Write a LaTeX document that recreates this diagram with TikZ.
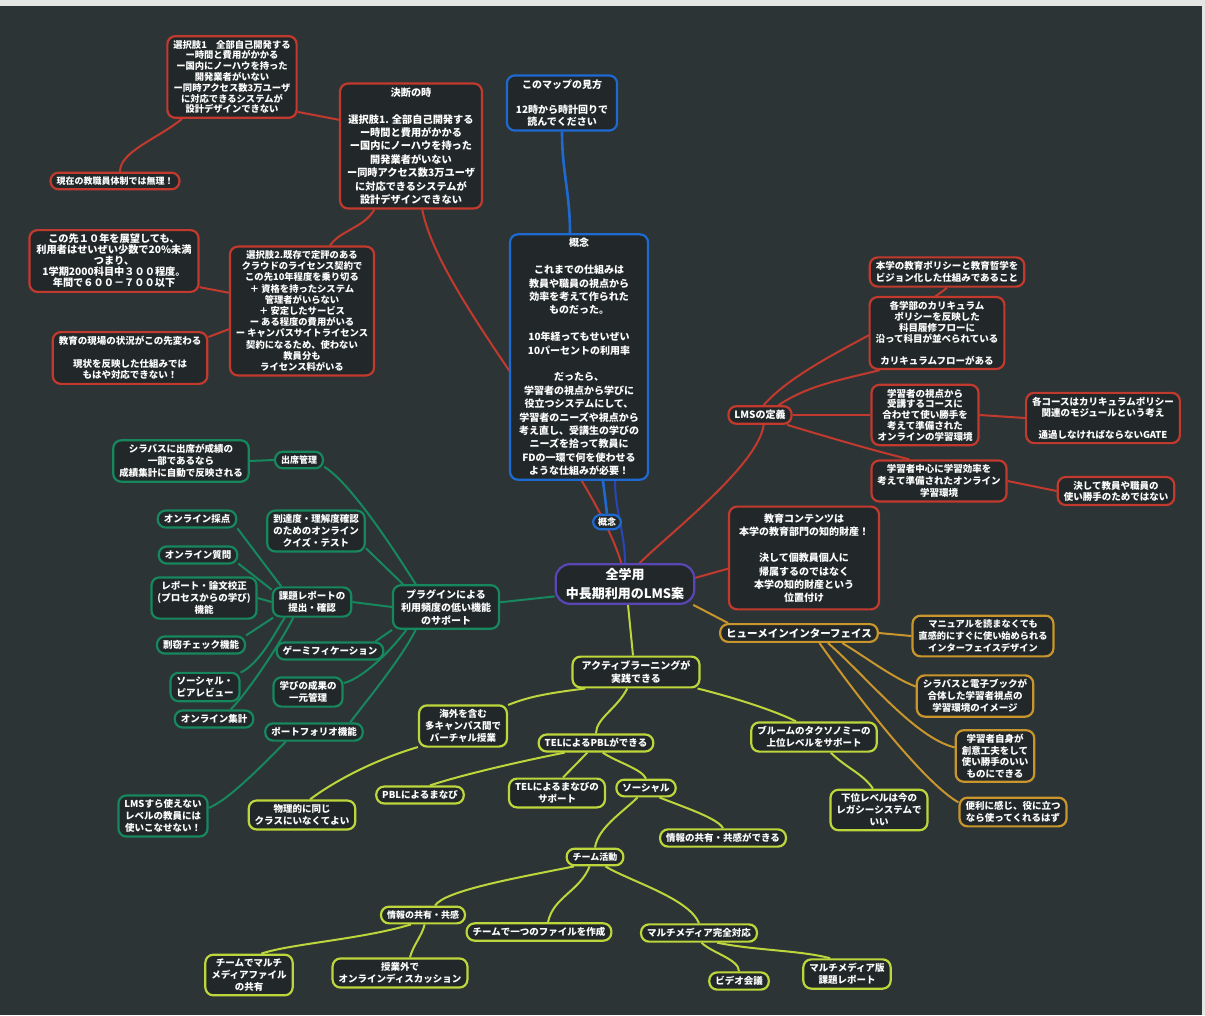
\documentclass[tikz,border=0pt]{standalone}
\usepackage{fontspec}
\newfontfamily\jp{Noto Sans CJK JP}
\newcommand\setfs[2]{\fontsize{#1}{#2}\selectfont}
\definecolor{bgc}{HTML}{2D3436}
\definecolor{nfill}{HTML}{222829}
\definecolor{mred}{HTML}{C23A2E}
\definecolor{mblue}{HTML}{1F6AD0}
\definecolor{mbluedark}{HTML}{2846B8}
\definecolor{mgreen}{HTML}{17885E}
\definecolor{mlime}{HTML}{BCD63C}
\definecolor{mgold}{HTML}{C8962C}
\definecolor{mpurple}{HTML}{5A46B4}
\definecolor{edgepaper}{HTML}{E4E6E4}
\pgfdeclarelayer{bg}
\pgfdeclarelayer{links}
\pgfsetlayers{bg,links,main}
\tikzset{
  mmbox/.style={rounded corners=8pt, draw, line width=2.2pt, fill=nfill, text=white,
    align=center, inner xsep=6pt, inner ysep=4pt, font=\jp\bfseries\setfs{9.5}{12}},
  rbox/.style={mmbox, draw=mred},
  bbox/.style={mmbox, draw=mblue},
  gbox/.style={mmbox, draw=mgreen},
  lbox/.style={mmbox, draw=mlime},
  obox/.style={mmbox, draw=mgold},
  rootbox/.style={mmbox, draw=mpurple, rounded corners=14pt, inner xsep=10pt, inner ysep=4pt, font=\jp\bfseries\setfs{13}{19}},
  rlink/.style={draw=mred, line width=2pt},
  blink/.style={draw=mblue, line width=2.6pt},
  bdlink/.style={draw=mbluedark, line width=2pt},
  glink/.style={draw=mgreen, line width=2pt},
  llink/.style={draw=mlime, line width=2pt},
  olink/.style={draw=mgold, line width=2pt},
}
\begin{document}
\begin{tikzpicture}[x=1pt,y=-1pt]
\useasboundingbox (0,0) rectangle (1205,1015);
\begin{pgfonlayer}{bg}
  \fill[bgc] (0,0) rectangle (1205,1015);
  \fill[edgepaper] (0,0) rectangle (1205,6);
  \fill[edgepaper] (1202,0) rectangle (1205,1015);
\end{pgfonlayer}

% ---------- root ----------
\node[rootbox] (root) at (625,584) {全学用\\中長期利用のLMS案};

% ---------- red branch: decision ----------
\node[rbox, font=\jp\bfseries\setfs{9.3}{10.8}] (sel1) at (232,77) {選択肢1　全部自己開発する\\ー時間と費用がかかる\\ー国内にノーハウを持った\\開発業者がいない\\ー同時アクセス数3万ユーザ\\に対応できるシステムが\\設計デザインできない};
\node[rbox, font=\jp\bfseries\setfs{9}{11}] (cur) at (115,181) {現在の教職員体制では無理！};
\node[rbox, font=\jp\bfseries\setfs{10.2}{13.4}, inner xsep=7pt] (decide) at (411,146) {決断の時\\[13.4pt]選択肢1. 全部自己開発する\\ー時間と費用がかかる\\ー国内にノーハウを持った\\開発業者がいない\\ー同時アクセス数3万ユーザ\\に対応できるシステムが\\設計デザインできない};
\node[rbox, font=\jp\bfseries\setfs{9.3}{11.2}] (sel2) at (302,311) {選択肢2.既存で定評のある\\クラウドのライセンス契約で\\この先10年程度を乗り切る\\＋ 資格を持ったシステム\\管理者がいらない\\＋ 安定したサービス\\ー ある程度の費用がいる\\ー キャンパスサイトライセンス\\契約になるため、使わない\\教員分も\\ライセンス料がいる};
\node[rbox, font=\jp\bfseries\setfs{10.2}{11}, inner xsep=7pt] (ten) at (114,261) {この先１０年を展望しても、\\利用者はせいぜい少数で20\%未満\\つまり、\\1学期2000科目中３００程度。\\年間で６００－７００以下};
\node[rbox, font=\jp\bfseries\setfs{9.5}{11.5}] (edu) at (130,358) {教育の現場の状況がこの先変わる\\[11.5pt]現状を反映した仕組みでは\\もはや対応できない！};

% ---------- red branch: LMS definition ----------
\node[rbox, font=\jp\bfseries\setfs{10}{12}] (lms) at (760,415) {LMSの定義};
\node[rbox] (p1) at (947,272) {本学の教育ポリシーと教育哲学を\\ビジョン化した仕組みであること};
\node[rbox, font=\jp\bfseries\setfs{9.5}{11}] (p2) at (937,333) {各学部のカリキュラム\\ポリシーを反映した\\科目履修フローに\\沿って科目が並べられている\\[11pt]カリキュラムフローがある};
\node[rbox, font=\jp\bfseries\setfs{9.5}{10.8}] (p3) at (925,415) {学習者の視点から\\受講するコースに\\合わせて使い勝手を\\考えて準備された\\オンラインの学習環境};
\node[rbox, font=\jp\bfseries\setfs{9.5}{11}] (p3a) at (1103,418) {各コースはカリキュラムポリシー\\関連のモジュールという考え\\[11pt]通過しなければならないGATE};
\node[rbox] (p4) at (939,481) {学習者中心に学習効率を\\考えて準備されたオンライン\\学習環境};
\node[rbox, font=\jp\bfseries\setfs{9.5}{11}] (p4a) at (1116,491) {決して教員や職員の\\使い勝手のためではない};
\node[rbox, font=\jp\bfseries\setfs{10}{13.2}, inner ysep=7pt, inner xsep=10pt] (content) at (804,558) {教育コンテンツは\\本学の教育部門の知的財産！\\[13.2pt]決して個教員個人に\\帰属するのではなく\\本学の知的財産という\\位置付け};

% ---------- blue branch ----------
\node[bbox, font=\jp\bfseries\setfs{10}{12.5}, inner xsep=9pt] (howto) at (562,103) {このマップの見方\\[12.5pt]12時から時計回りで\\読んでください};
\node[bbox, font=\jp\bfseries\setfs{10}{13.4}, inner xsep=9pt] (concept) at (579,357) {概念\\[13.4pt]これまでの仕組みは\\教員や職員の視点から\\効率を考えて作られた\\ものだった。\\[13.4pt]10年経ってもせいぜい\\10パーセントの利用率\\[13.4pt]だったら、\\学習者の視点から学びに\\役立つシステムにして、\\学習者のニーズや視点から\\考え直し、受講生の学びの\\ニーズを拾って教員に\\FDの一環で何を使わせる\\ような仕組みが必要！};
\node[bbox, font=\jp\bfseries\setfs{9}{11}, inner xsep=5pt, inner ysep=3pt] (tag) at (607,522) {概念};

% ---------- gold branch ----------
\node[obox, font=\jp\bfseries\setfs{10.5}{12}] (hum) at (799,633) {ヒューメインインターフェイス};
\node[obox, font=\jp\bfseries\setfs{9.2}{12}] (o1) at (983,636) {マニュアルを読まなくても\\直感的にすぐに使い始められる\\インターフェイスデザイン};
\node[obox] (o2) at (975,696) {シラバスと電子ブックが\\合体した学習者視点の\\学習環境のイメージ};
\node[obox, font=\jp\bfseries\setfs{9.5}{11.5}] (o3) at (995,756) {学習者自身が\\創意工夫をして\\使い勝手のいい\\ものにできる};
\node[obox, font=\jp\bfseries\setfs{9.5}{11.5}] (o4) at (1013,812) {便利に感じ、役に立つ\\なら使ってくれるはず};

% ---------- green branch ----------
\node[gbox, font=\jp\bfseries\setfs{10}{13}, inner xsep=8pt] (plug) at (446,607) {プラグインによる\\利用頻度の低い機能\\のサポート};
\node[gbox, font=\jp\bfseries\setfs{9}{11}] (att) at (299,460) {出席管理};
\node[gbox] (syl) at (181,461) {シラバスに出席が成績の\\一部であるなら\\成績集計に自動で反映される};
\node[gbox] (quiz) at (316,531) {到達度・理解度確認\\のためのオンライン\\クイズ・テスト};
\node[gbox] (rep) at (312,602) {課題レポートの\\提出・確認};
\node[gbox] (game) at (330,651) {ゲーミフィケーション};
\node[gbox] (learn) at (308,692) {学びの成果の\\一元管理};
\node[gbox] (port) at (314,732) {ポートフォリオ機能};
\node[gbox] (glms) at (163,816) {LMSすら使えない\\レベルの教員には\\使いこなせない！};
\node[gbox] (c1) at (197,519) {オンライン採点};
\node[gbox] (c2) at (198,555) {オンライン質問};
\node[gbox] (c3) at (204,598) {レポート・論文校正\\(プロセスからの学び)\\機能};
\node[gbox] (c4) at (201,645) {剽窃チェック機能};
\node[gbox] (c5) at (205,687) {ソーシャル・\\ピアレビュー};
\node[gbox] (c6) at (214,719) {オンライン集計};

% ---------- lime branch ----------
\node[lbox, font=\jp\bfseries\setfs{10}{13}, inner xsep=9pt] (al) at (636,672) {アクティブラーニングが\\実践できる};
\node[lbox] (sea) at (463,726) {海外を含む\\多キャンパス間で\\バーチャル授業};
\node[lbox] (telpbl) at (596,743) {TELによるPBLができる};
\node[lbox] (bloom) at (814,737) {ブルームのタクソノミーの\\上位レベルをサポート};
\node[lbox] (lower) at (879,810) {下位レベルは今の\\レガシーシステムで\\いい};
\node[lbox] (rule) at (302,815) {物理的に同じ\\クラスにいなくてよい};
\node[lbox] (pbl) at (420,795) {PBLによるまなび};
\node[lbox] (telsup) at (557,793) {TELによるまなびの\\サポート};
\node[lbox] (social) at (646,788) {ソーシャル};
\node[lbox] (share1) at (723,838) {情報の共有・共感ができる};
\node[lbox, font=\jp\bfseries\setfs{9}{11}] (team) at (595,857) {チーム活動};
\node[lbox, font=\jp\bfseries\setfs{9}{11}] (share2) at (423,915) {情報の共有・共感};
\node[lbox] (onefile) at (539,932) {チームで一つのファイルを作成};
\node[lbox] (multi) at (699,933) {マルチメディア完全対応};
\node[lbox] (mmshare) at (249,975) {チームでマルチ\\メディアファイル\\の共有};
\node[lbox] (odisc) at (400,973) {授業外で\\オンラインディスカッション};
\node[lbox] (video) at (739,981) {ビデオ会議};
\node[lbox] (mmreport) at (847,974) {マルチメディア版\\課題レポート};

% ---------- connectors ----------
\begin{pgfonlayer}{links}
  % red
  \draw[rlink] (sel1.-28) -- (decide.160);
  \draw[rlink] (sel1.-140) .. controls +(-25,20) and +(0,-20) .. ([xshift=5pt]cur.north);
  \draw[rlink] (root.100) .. controls (590,460) and (440,300) .. (decide.-80);
  \draw[rlink] (decide.-120) .. controls +(-10,18) and +(10,-15) .. ([xshift=28pt]sel2.north);
  \draw[rlink] (sel2.166) -- (ten.-17);
  \draw[rlink] (sel2.194) -- (edu.15);
  \draw[rlink] (root.55) .. controls +(30,-30) and +(-5,40) .. (lms.-70);
  \draw[rlink] (lms.70) .. controls +(40,-45) and +(-50,40) .. (p1.south);
  \draw[rlink] (lms.28) .. controls +(30,-20) and +(-40,10) .. (p2.213);
  \draw[rlink] (lms.east) -- (p3.west);
  \draw[rlink] (lms.-20) .. controls +(40,12) and +(-40,-10) .. (p4.144);
  \draw[rlink] (p3.east) -- (p3a.west);
  \draw[rlink] (p4.east) -- (p4a.west);
  \draw[rlink] (root.5) -- (content.188);
  % blue
  \draw[blink] (howto.south) .. controls +(0,40) and +(0,-40) .. ([xshift=-9pt]concept.north);
  \draw[blink] ([xshift=24pt]concept.south) -- (tag.north);
  \draw[bdlink] ([xshift=36pt]concept.south) .. controls +(0,30) and +(0,-30) .. (root.north);
  % gold
  \draw[olink] (root.-17) -- (hum.172);
  \draw[olink] (hum.east) -- (o1.west);
  \draw[olink] (hum.-13) .. controls +(25,15) and +(-25,-10) .. (o2.171);
  \draw[olink] (hum.-19) .. controls +(40,35) and +(-40,-10) .. (o3.168);
  \draw[olink] (hum.-26) .. controls +(35,50) and +(-35,-20) .. (o4.170);
  % green
  \draw[glink] (root.190) -- (plug.5);
  \draw[glink] (plug.143) .. controls +(-25,-40) and +(25,15) .. (att.-15);
  \draw[glink] (plug.152) -- (quiz.-19);
  \draw[glink] (plug.west) -- (rep.east);
  \draw[glink] (plug.-157) -- (game.12);
  \draw[glink] (plug.-150) .. controls +(-15,20) and +(20,-5) .. (learn.14);
  \draw[glink] (plug.-143) .. controls +(-15,30) and +(15,-20) .. (port.15);
  \draw[glink] (att.west) -- (syl.east);
  \draw[glink] (port.-161) .. controls +(-25,25) and +(20,-8) .. (glms.10);
  \draw[glink] (c1.-13) -- (rep.153);
  \draw[glink] (c2.-12) -- (rep.163);
  \draw[glink] (c3.east) -- (rep.west);
  \draw[glink] (c4.12) -- (rep.202);
  \draw[glink] (c5.22) .. controls +(20,-10) and +(-10,15) .. (rep.210);
  \draw[glink] (c6.30) .. controls +(20,-20) and +(-10,20) .. (rep.220);
  % lime
  \draw[llink] ([xshift=3pt]root.south) -- ([xshift=-3pt]al.north);
  \draw[llink] (al.-162) .. controls +(-40,5) and +(20,-8) .. (sea.25);
  \draw[llink] (al.-118) .. controls +(-10,20) and +(0,-15) .. (telpbl.north);
  \draw[llink] (al.-15) .. controls +(40,10) and +(-20,-10) .. (bloom.139);
  \draw[llink] (bloom.-43) .. controls +(15,15) and +(-10,-15) .. ([xshift=-6pt]lower.north);
  \draw[llink] (sea.-155) .. controls +(-50,15) and +(20,-15) .. ([xshift=8pt]rule.north);
  \draw[llink] (telpbl.-163) .. controls +(-50,10) and +(30,-10) .. ([xshift=10pt]pbl.north);
  \draw[llink] (telpbl.-132) -- ([xshift=6pt]telsup.north);
  \draw[llink] (telpbl.-55) .. controls +(15,10) and +(-5,-10) .. (social.north);
  \draw[llink] (social.-35) .. controls +(25,10) and +(-5,-10) .. (share1.north);
  \draw[llink] (social.-132) .. controls +(-15,15) and +(3,-20) .. (team.north);
  \draw[llink] (team.-156) .. controls +(-60,12) and +(10,-15) .. ([xshift=12pt]share2.north);
  \draw[llink] (team.-120) .. controls +(-10,25) and +(5,-25) .. ([xshift=9pt]onefile.north);
  \draw[llink] (team.-42) .. controls +(25,15) and +(-10,-25) .. (multi.north);
  \draw[llink] (share2.-142) .. controls +(-50,15) and +(30,-10) .. (mmshare.60);
  \draw[llink] (share2.-80) .. controls +(-3,12) and +(3,-12) .. ([xshift=10pt]odisc.north);
  \draw[llink] (multi.-75) .. controls +(10,10) and +(0,-12) .. (video.north);
  \draw[llink] (multi.-28) .. controls +(40,8) and +(-30,-8) .. (mmreport.137);
\end{pgfonlayer}
\end{tikzpicture}
\end{document}
